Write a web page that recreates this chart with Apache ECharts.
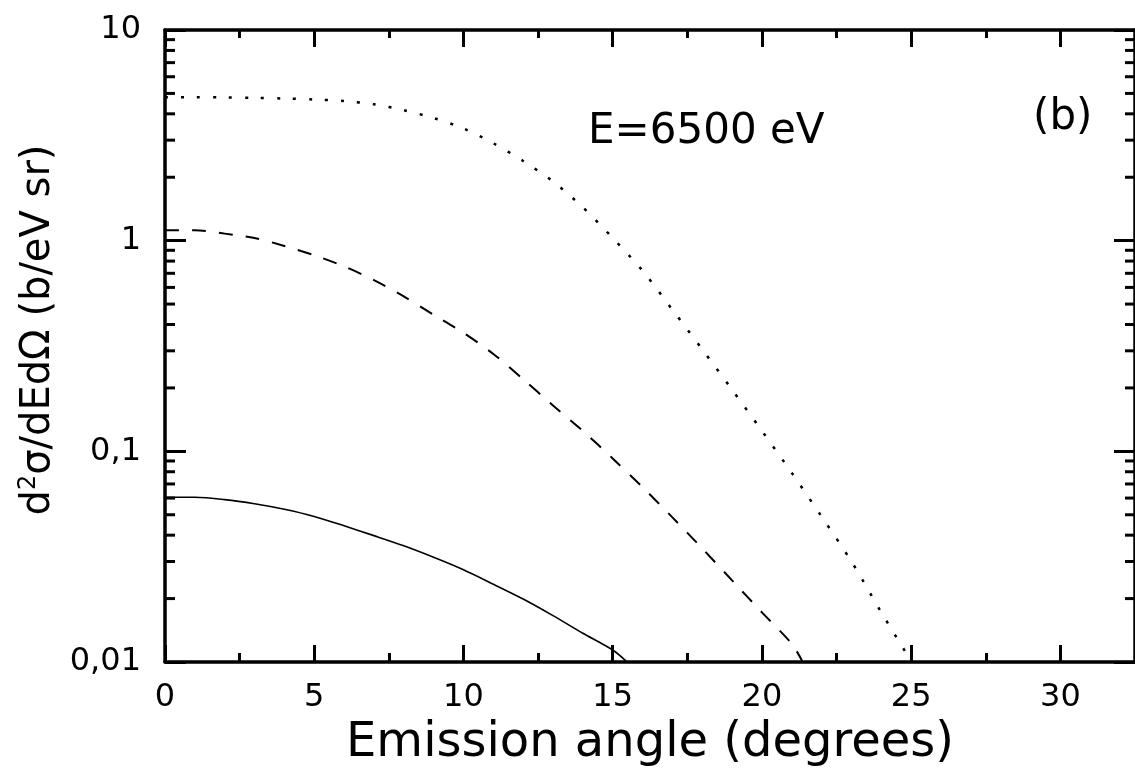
<!DOCTYPE html>
<html>
<head>
<meta charset="utf-8">
<script src="https://cdn.jsdelivr.net/npm/echarts@6/dist/echarts.min.js"></script>
<style>
html,body{margin:0;padding:0;background:#fff;}
#chart{width:1135px;height:776px;}
</style>
</head>
<body>
<div id="chart"></div>
<script>
// ---- data ----
const dottedAngles = [0,1,2,3,4,5,6,7,8,9,10,11,12,13,14,15,16,17,18,19,20,21,22,23,24,25];
const dottedValues = [4.8,4.8,4.79,4.76,4.73,4.68,4.6,4.44,4.16,3.82,3.41,2.9,2.39,1.91,1.44,1.03,0.72,0.47,0.305,0.196,0.125,0.079,0.049,0.030,0.0172,0.0101];
const dashedAngles = [0,1,2,3,4,5,6,7,8,9,10,11,12,13,14,15,16,17,18,19,20,21,21.35];
const dashedValues = [1.12,1.12,1.08,1.03,0.944,0.853,0.755,0.65,0.544,0.445,0.365,0.29,0.22,0.165,0.125,0.0925,0.0676,0.0486,0.0346,0.0244,0.0172,0.0122,0.0101];
const solidAngles = [0,1,2,3,4,5,6,7,8,9,10,11,12,13,14,15,15.45];
const solidValues = [0.0605,0.0605,0.059,0.0564,0.0531,0.0491,0.0443,0.0398,0.0356,0.0314,0.0274,0.0234,0.0199,0.0166,0.0137,0.0114,0.0101];
const yTickValues = [0.01,0.1,1,10];
const yTickLabels = ['0,01','0,1','1','10'];
const yMinorTickValues = [0.02,0.03,0.04,0.05,0.06,0.07,0.08,0.09,0.2,0.3,0.4,0.5,0.6,0.7,0.8,0.9,2,3,4,5,6,7,8,9];
const X_MIN = 0, X_MAX = 32.5, Y_MIN = 0.01, Y_MAX = 10;
const xTitle = 'Emission angle (degrees)';
const energyLabel = 'E=6500 eV';
const panelLabel = '(b)';

// ---- chart ----
const FONT = 'DejaVu Sans';
const pair = (xs, ys) => xs.map((x, i) => [x, ys[i]]);
const chart = echarts.init(document.getElementById('chart'), null, {renderer: 'canvas'});

function yLabel(v) {
  let best = 0, d = Infinity;
  yTickValues.forEach((t, i) => {
    const dd = Math.abs(Math.log10(t) - Math.log10(v));
    if (dd < d) { d = dd; best = i; }
  });
  return yTickLabels[best];
}

const hiddenX = (pos, len) => ({
  type: 'value', position: pos, min: X_MIN, max: X_MAX, interval: 2.5,
  axisLine: {show: false}, axisLabel: {show: false}, splitLine: {show: false},
  axisTick: {show: true, inside: true, length: len, lineStyle: {color: '#000', width: 3}}
});

const option = {
  animation: false,
  backgroundColor: '#fff',
  grid: {left: 165, top: 30, right: -7, bottom: 114},
  xAxis: [
    {
      type: 'value', position: 'bottom', min: X_MIN, max: X_MAX, interval: 5,
      name: xTitle, nameLocation: 'middle', nameGap: 58,
      nameTextStyle: {fontFamily: FONT, fontSize: 48, color: '#000'},
      axisLine: {show: true, onZero: false, lineStyle: {color: '#000', width: 3.5}},
      axisTick: {show: true, inside: true, length: 17, lineStyle: {color: '#000', width: 3}},
      axisLabel: {show: true, margin: 20, fontFamily: FONT, fontSize: 32, color: '#000', showMaxLabel: false},
      splitLine: {show: false}
    },
    {
      type: 'value', position: 'top', min: X_MIN, max: X_MAX, interval: 5,
      axisLine: {show: true, onZero: false, lineStyle: {color: '#000', width: 3.5}},
      axisTick: {show: true, inside: true, length: 17, lineStyle: {color: '#000', width: 3}},
      axisLabel: {show: false}, splitLine: {show: false}
    },
    hiddenX('bottom', 9),
    hiddenX('top', 8)
  ],
  yAxis: [
    {
      type: 'log', logBase: 10, min: Y_MIN, max: Y_MAX, position: 'left',
      name: '{b|d}{s|2}{b|σ/dEdΩ (b/eV sr)}',
      nameLocation: 'middle', nameGap: 96,
      nameTextStyle: {
        fontFamily: FONT, fontSize: 40, color: '#000', padding: [0, 0, 0, 32],
        rich: {
          b: {fontFamily: FONT, fontSize: 40, color: '#000', lineHeight: 44},
          s: {fontFamily: FONT, fontSize: 24, color: '#000', verticalAlign: 'top', lineHeight: 24}
        }
      },
      axisLine: {show: true, onZero: false, lineStyle: {color: '#000', width: 3.5}},
      axisTick: {show: true, inside: true, length: 21, lineStyle: {color: '#000', width: 3}},
      axisLabel: {show: true, margin: 24, fontFamily: FONT, fontSize: 32, color: '#000', formatter: yLabel},
      splitLine: {show: false}
    },
    {
      type: 'log', logBase: 10, min: Y_MIN, max: Y_MAX, position: 'right',
      axisLine: {show: true, onZero: false, lineStyle: {color: '#000', width: 3.5}},
      axisTick: {show: true, inside: true, length: 21, lineStyle: {color: '#000', width: 3}},
      axisLabel: {show: false}, splitLine: {show: false}
    }
  ],
  graphic: [
    {type: 'text', left: 588, top: 111, style: {text: energyLabel, font: '42px "DejaVu Sans"', fill: '#000'}},
    {type: 'text', left: 1033, top: 97, style: {text: panelLabel, font: '42px "DejaVu Sans"', fill: '#000'}}
  ],
  series: [
    {
      type: 'custom', name: 'minorTicks', coordinateSystem: 'cartesian2d', xAxisIndex: 0, yAxisIndex: 0,
      silent: true, clip: false,
      data: yMinorTickValues.map(v => [X_MIN, v]),
      encode: {x: 0, y: 1},
      renderItem: function (params, api) {
        const v = api.value(1);
        const pl = api.coord([X_MIN, v]);
        const pr = api.coord([X_MAX, v]);
        return {
          type: 'group',
          children: [
            {type: 'line', shape: {x1: pl[0], y1: pl[1], x2: pl[0] + 10, y2: pl[1]}, style: {stroke: '#000', lineWidth: 3}},
            {type: 'line', shape: {x1: pr[0] - 10, y1: pr[1], x2: pr[0], y2: pr[1]}, style: {stroke: '#000', lineWidth: 3}}
          ]
        };
      }
    },
    {
      type: 'line', name: 'dotted', data: pair(dottedAngles, dottedValues), showSymbol: false, smooth: 0.3,
      lineStyle: {color: '#000', width: 2.5, type: [3, 13]}
    },
    {
      type: 'line', name: 'dashed', data: pair(dashedAngles, dashedValues), showSymbol: false, smooth: 0.3,
      lineStyle: {color: '#000', width: 2, type: [14, 13]}
    },
    {
      type: 'line', name: 'solid', data: pair(solidAngles, solidValues), showSymbol: false, smooth: 0.3,
      lineStyle: {color: '#000', width: 1.6, type: 'solid'}
    }
  ]
};
chart.setOption(option);
</script>
</body>
</html>
